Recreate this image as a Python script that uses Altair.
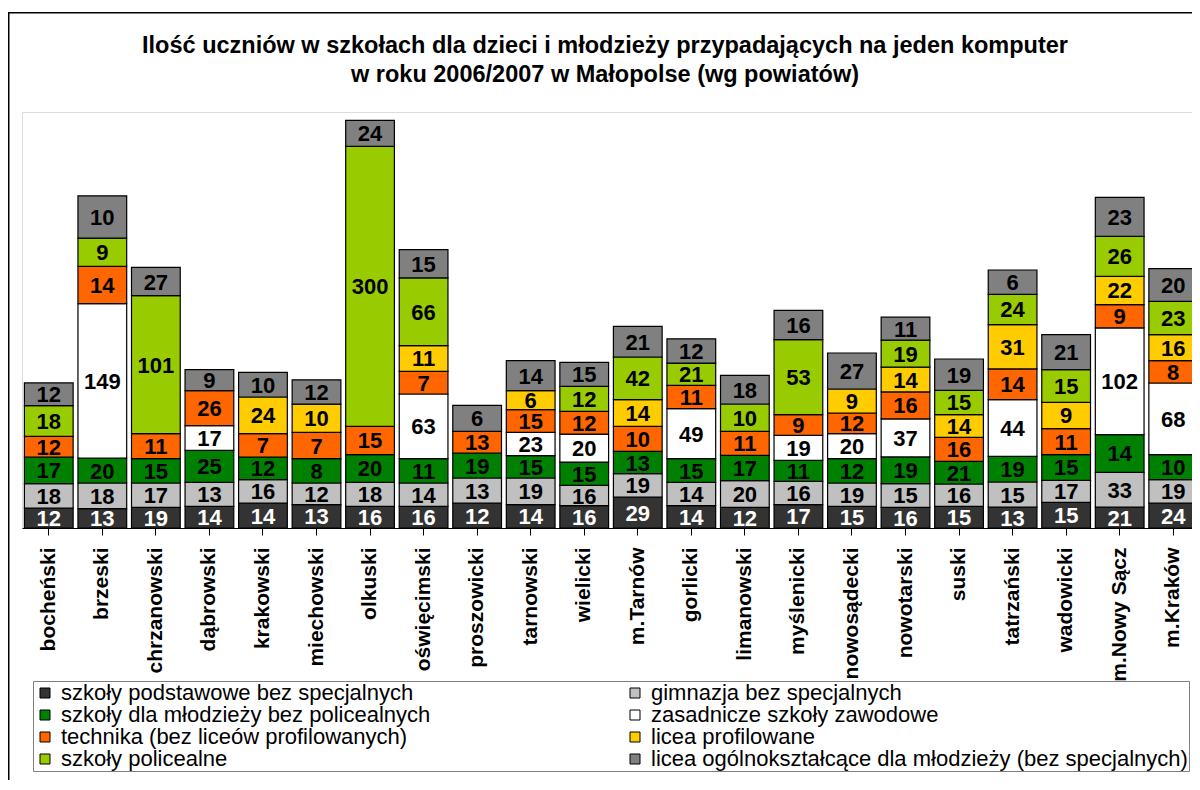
import altair as alt
import pandas as pd

FONT = "Liberation Sans"

districts = ["bocheński", "brzeski", "chrzanowski", "dąbrowski", "krakowski", "miechowski",
             "olkuski", "oświęcimski", "proszowicki", "tarnowski", "wielicki", "m.Tarnów",
             "gorlicki", "limanowski", "myślenicki", "nowosądecki", "nowotarski", "suski",
             "tatrzański", "wadowicki", "m.Nowy Sącz", "m.Kraków"]

categories = ["szkoły podstawowe bez specjalnych",
              "gimnazja bez specjalnych",
              "szkoły dla młodzieży bez policealnych",
              "zasadnicze szkoły zawodowe",
              "technika (bez liceów profilowanych)",
              "licea profilowane",
              "szkoły policealne",
              "licea ogólnokształcące dla młodzieży (bez specjalnych)"]
colors = ["#333333", "#C0C0C0", "#008000", "#FFFFFF", "#FF6600", "#FFCC00", "#99CC00", "#808080"]

# printed values (pupils per computer)
lab_podst = [12, 13, 19, 14, 14, 13, 16, 16, 12, 14, 16, 29, 14, 12, 17, 15, 16, 15, 13, 15, 21, 24]
lab_gimn = [18, 18, 17, 13, 16, 12, 18, 14, 13, 19, 16, 19, 14, 20, 16, 19, 15, 16, 15, 17, 33, 19]
lab_mlodz = [17, 20, 15, 25, 12, 8, 20, 11, 19, 15, 15, 13, 15, 17, 11, 12, 19, 21, 19, 15, 14, 10]
lab_zasad = [None, 149, None, 17, None, None, None, 63, None, 23, 20, None, 49, None, 19, 20, 37, None, 44, None, 102, 68]
lab_techn = [12, 14, 11, 26, 7, 7, 15, 7, 13, 15, 12, 10, 11, 11, 9, 12, 16, 16, 14, 11, 9, 8]
lab_profil = [None, None, None, None, 24, 10, None, 11, None, 6, None, 14, None, None, None, 9, 14, 14, 31, 9, 22, 16]
lab_polic = [18, 9, 101, None, None, None, 300, 66, None, None, 12, 42, 21, 10, 53, None, 19, 15, 24, 15, 26, 23]
lab_ogol = [12, 10, 27, 9, 10, 12, 24, 15, 6, 14, 15, 21, 12, 18, 16, 27, 11, 19, 6, 21, 23, 20]

# plotted segment heights as drawn in the original (hidden axis, gridline step = 52)
h_podst = [20, 19.3, 20.7, 21.7, 25, 23.3, 21.7, 21.7, 25, 23.3, 22.3, 31, 22.3, 20.7, 23.3, 21.7, 20.7, 21.7, 21, 25.7, 21, 25]
h_gimn = [24.3, 25.7, 24.3, 24, 23.3, 21.7, 24, 23.3, 25, 26.7, 20.3, 23.3, 23.3, 26.7, 23.3, 23.3, 23.7, 22.3, 25, 22, 34.7, 23.3]
h_mlodz = [26.7, 25, 24.3, 32, 22.7, 24.3, 27.7, 24.3, 25, 22.3, 23.3, 22.3, 23.7, 25.3, 21, 24.3, 26.7, 22.7, 25.7, 25.7, 37.7, 25]
h_zasad = [None, 154.3, None, 24.7, None, None, None, 64.7, None, 23.3, 28, None, 50, None, 25, 25, 38, None, 56.7, None, 106.7, 71.7]
h_techn = [20.7, 37.3, 25, 35, 23.3, 26.3, 28.3, 22.7, 21.7, 22.7, 22.7, 25, 23.3, 24, 20.7, 20.7, 27, 24, 30.7, 26, 23.3, 22.3]
h_profil = [None, None, None, None, 36.7, 28.3, None, 25.7, None, 19, None, 26.7, None, None, None, 24, 24.7, 22.7, 44.3, 26.3, 28.3, 26]
h_polic = [30.7, 28.3, 138, None, None, None, 280, 67.7, None, None, 25, 42.7, 22.3, 27.3, 75, None, 27, 24.3, 30.3, 32.7, 40, 33.3]
h_ogol = [22.7, 42.3, 28.3, 21, 24.7, 24.3, 26, 28.3, 26, 30, 24, 30.7, 24.3, 28.7, 29.3, 36, 23, 31.3, 24.3, 35, 39, 32.7]

title_lines = ["Ilość uczniów w szkołach dla dzieci i młodzieży przypadających na jeden komputer",
               "w roku 2006/2007 w Małopolse (wg powiatów)"]

labels = [lab_podst, lab_gimn, lab_mlodz, lab_zasad, lab_techn, lab_profil, lab_polic, lab_ogol]
heights = [h_podst, h_gimn, h_mlodz, h_zasad, h_techn, h_profil, h_polic, h_ogol]

rows = []
for ci, cat in enumerate(categories):
    for di, d in enumerate(districts):
        if labels[ci][di] is not None:
            rows.append({"district": d, "cat": cat, "order": ci,
                         "label": labels[ci][di], "h": heights[ci][di]})
df = pd.DataFrame(rows)

W, H = 1178, 416
yscale = alt.Scale(domain=[0, 416], nice=False, zero=True)
xenc = alt.X("district:N", sort=districts,
             scale=alt.Scale(paddingInner=0.09, paddingOuter=0.045),
             axis=alt.Axis(title=None, labelAngle=-90, labelAlign="right", labelBaseline="middle",
                           labelFont=FONT, labelFontSize=21, labelFontWeight="bold",
                           labelColor="black", labelPadding=12, tickSize=7, tickColor="black",
                           domainColor="black", domainWidth=1, labelLimit=300))

bars = alt.Chart(df).mark_bar(stroke="black", strokeWidth=1.2).encode(
    x=xenc,
    y=alt.Y("h:Q", stack="zero", scale=yscale,
            axis=alt.Axis(title=None, labels=False, ticks=False, domain=False, grid=True,
                          values=[52, 104, 156, 208, 260, 312, 364, 416],
                          gridColor="#555555", gridWidth=1)),
    color=alt.Color("cat:N", scale=alt.Scale(domain=categories, range=colors),
                    legend=alt.Legend(title=None, orient="none", legendX=11, legendY=569,
                                      columns=2, direction="horizontal",
                                      symbolType="square", symbolSize=100,
                                      symbolStrokeColor="black", symbolStrokeWidth=1,
                                      labelFont=FONT, labelFontSize=22, labelColor="black",
                                      labelOffset=5, rowPadding=0, columnPadding=193,
                                      labelLimit=700, strokeColor="#808080", padding=1)),
    order=alt.Order("order:Q", sort="ascending"),
)

texts = alt.Chart(df).transform_stack(
    stack="h", as_=["y0", "y1"], groupby=["district"],
    sort=[alt.SortField("order", order="ascending")]
).transform_calculate(mid="(datum.y0 + datum.y1) / 2").mark_text(
    font=FONT, fontSize=22, fontWeight="bold", baseline="middle", align="center", dy=1
).encode(
    x=alt.X("district:N", sort=districts),
    y=alt.Y("mid:Q", scale=yscale, axis=None),
    text=alt.Text("label:Q"),
    color=alt.condition(alt.datum.order == 0, alt.value("white"), alt.value("black")),
)

one = pd.DataFrame({"k": [0]})
frame = alt.Chart(one).mark_rect(filled=False, stroke="black", strokeWidth=1.5).encode(
    x=alt.value(-13.25), x2=alt.value(1400), y=alt.value(-99.25), y2=alt.value(900))

title1 = alt.Chart(one).mark_text(text=title_lines[0], font=FONT, fontSize=23.5, fontWeight="bold",
                                  align="center", baseline="alphabetic", color="black").encode(
    x=alt.value(583), y=alt.value(-59))
title2 = alt.Chart(one).mark_text(text=title_lines[1], font=FONT, fontSize=23.5, fontWeight="bold",
                                  align="center", baseline="alphabetic", color="black").encode(
    x=alt.value(583), y=alt.value(-30))

chart = alt.layer(frame, bars, texts, title1, title2).properties(
    width=W, height=H,
    autosize=alt.AutoSizeParams(type="none"),
    padding={"left": 14, "top": 104, "right": -8, "bottom": 252},
).configure_view(stroke="#888888").configure(background="white")

chart.save("out.html", embed_options={"renderer": "svg", "actions": False})
